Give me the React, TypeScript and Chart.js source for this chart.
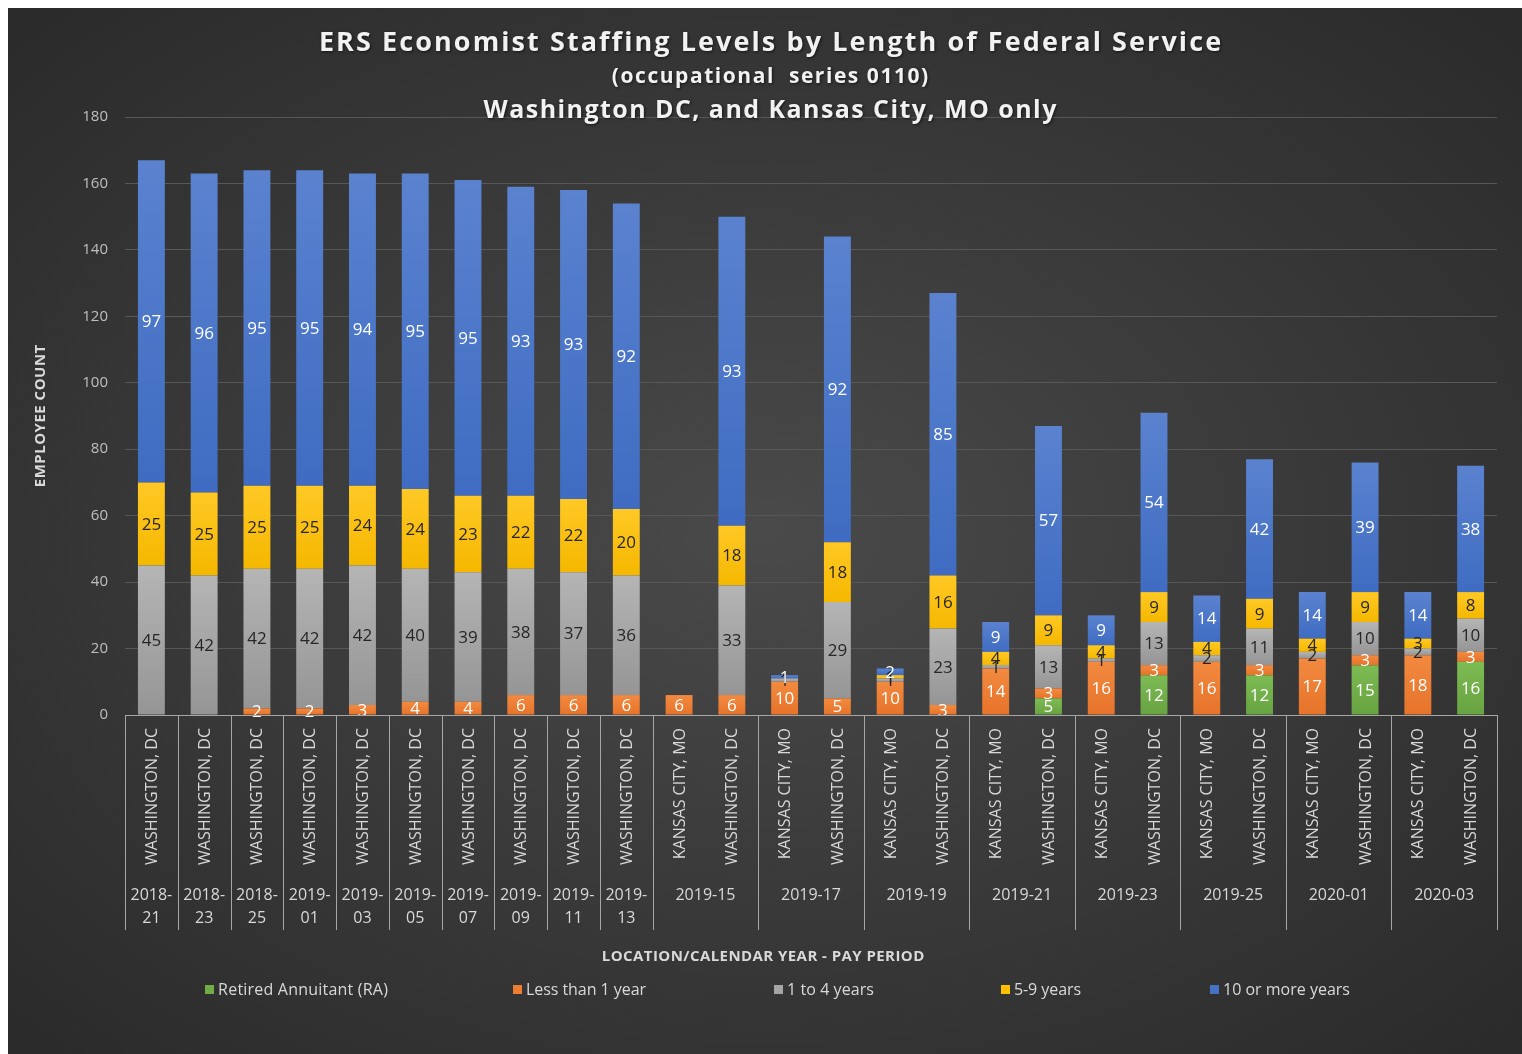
import React, { useEffect, useRef } from 'react';
import { Chart, registerables } from 'chart.js';

Chart.register(...registerables);

// ---------- data ----------
const locations = [
  'WASHINGTON, DC', 'WASHINGTON, DC', 'WASHINGTON, DC', 'WASHINGTON, DC', 'WASHINGTON, DC',
  'WASHINGTON, DC', 'WASHINGTON, DC', 'WASHINGTON, DC', 'WASHINGTON, DC', 'WASHINGTON, DC',
  'KANSAS CITY, MO', 'WASHINGTON, DC', 'KANSAS CITY, MO', 'WASHINGTON, DC',
  'KANSAS CITY, MO', 'WASHINGTON, DC', 'KANSAS CITY, MO', 'WASHINGTON, DC',
  'KANSAS CITY, MO', 'WASHINGTON, DC', 'KANSAS CITY, MO', 'WASHINGTON, DC',
  'KANSAS CITY, MO', 'WASHINGTON, DC', 'KANSAS CITY, MO', 'WASHINGTON, DC',
];
const periods = [
  '2018-21', '2018-23', '2018-25', '2019-01', '2019-03', '2019-05', '2019-07', '2019-09', '2019-11', '2019-13',
  '2019-15', '2019-15', '2019-17', '2019-17', '2019-19', '2019-19', '2019-21', '2019-21',
  '2019-23', '2019-23', '2019-25', '2019-25', '2020-01', '2020-01', '2020-03', '2020-03',
];

const seriesNames = ['Retired Annuitant (RA)', 'Less than 1 year', '1 to 4 years', '5-9 years', '10 or more years'];

const retiredAnnuitant = [0, 0, 0, 0, 0, 0, 0, 0, 0, 0, 0, 0, 0, 0, 0, 0, 0, 5, 0, 12, 0, 12, 0, 15, 0, 16];
const lessThan1Year = [0, 0, 2, 2, 3, 4, 4, 6, 6, 6, 6, 6, 10, 5, 10, 3, 14, 3, 16, 3, 16, 3, 17, 3, 18, 3];
const oneToFourYears = [45, 42, 42, 42, 42, 40, 39, 38, 37, 36, 0, 33, 1, 29, 1, 23, 1, 13, 1, 13, 2, 11, 2, 10, 2, 10];
const fiveToNineYears = [25, 25, 25, 25, 24, 24, 23, 22, 22, 20, 0, 18, 0, 18, 1, 16, 4, 9, 4, 9, 4, 9, 4, 9, 3, 8];
const tenOrMoreYears = [97, 96, 95, 95, 94, 95, 95, 93, 93, 92, 0, 93, 1, 92, 2, 85, 9, 57, 9, 54, 14, 42, 14, 39, 14, 38];

const yMax = 180;
const yStep = 20;

const titleLines = [
  'ERS Economist Staffing Levels by Length of Federal Service',
  '(occupational  series 0110)',
  'Washington DC, and Kansas City, MO only',
];
const yTitle = 'EMPLOYEE COUNT';
const xTitle = 'LOCATION/CALENDAR YEAR - PAY PERIOD';

// ---------- style ----------
const allSeries = [retiredAnnuitant, lessThan1Year, oneToFourYears, fiveToNineYears, tenOrMoreYears];
const baseColors = ['#70AD47', '#ED7D31', '#A5A5A5', '#FFC000', '#4472C4'];
const topColors = ['#7dbb54', '#f28a40', '#b5b5b5', '#ffc825', '#5a82cf'];
const bottomColors = ['#67a340', '#e6732a', '#959595', '#f5b800', '#3f6cc2'];
const labelColors = ['#ffffff', '#ffffff', '#262626', '#262626', '#ffffff'];

const W = 1514;
const H = 1046;
const FONT = "'Open Sans', sans-serif";

function fitText(ctx: CanvasRenderingContext2D, text: string, cx: number, cy: number, target: number) {
  (ctx as any).letterSpacing = '0px';
  const w0 = ctx.measureText(text).width;
  const sp = (target - w0) / text.length;
  (ctx as any).letterSpacing = sp.toFixed(2) + 'px';
  ctx.textAlign = 'center';
  ctx.fillText(text, cx + sp / 2, cy);
  (ctx as any).letterSpacing = '0px';
}

const decorPlugin = {
  id: 'decor',
  afterDatasetsDraw(chart: any) {
    const ctx: CanvasRenderingContext2D = chart.ctx;
    ctx.save();
    ctx.font = `17px ${FONT}`;
    ctx.textAlign = 'center';
    ctx.textBaseline = 'middle';
    chart.data.datasets.forEach((ds: any, di: number) => {
      const meta = chart.getDatasetMeta(di);
      meta.data.forEach((el: any, i: number) => {
        const v = ds.data[i];
        if (!v) return;
        const p = el.getProps(['x', 'y', 'base'], true);
        ctx.fillStyle = labelColors[di];
        ctx.fillText(String(v), p.x, (p.y + p.base) / 2 + 1);
      });
    });
    ctx.restore();
  },
  afterDraw(chart: any) {
    const ctx: CanvasRenderingContext2D = chart.ctx;
    const area = chart.chartArea;
    const xs = chart.scales.x;
    const ys = chart.scales.y;
    const n = locations.length;
    ctx.save();

    // baseline
    const y0 = ys.getPixelForValue(0);
    ctx.strokeStyle = '#a6a6a6';
    ctx.lineWidth = 1;
    ctx.beginPath();
    ctx.moveTo(area.left, Math.round(y0) + 0.5);
    ctx.lineTo(area.right, Math.round(y0) + 0.5);
    ctx.stroke();

    const boundary = (i: number) => {
      if (i <= 0) return area.left;
      if (i >= n) return area.right;
      return (xs.getPixelForValue(i - 1) + xs.getPixelForValue(i)) / 2;
    };

    // groups
    const groups: { start: number; end: number; label: string }[] = [];
    periods.forEach((p, i) => {
      const last = groups[groups.length - 1];
      if (last && last.label === p) last.end = i;
      else groups.push({ start: i, end: i, label: p });
    });

    ctx.strokeStyle = '#a6a6a6';
    const sepBottom = y0 + 215;
    const drawSep = (x: number) => {
      ctx.beginPath();
      ctx.moveTo(Math.round(x) + 0.5, y0);
      ctx.lineTo(Math.round(x) + 0.5, sepBottom);
      ctx.stroke();
    };
    drawSep(boundary(0));
    groups.forEach((g) => drawSep(boundary(g.end + 1)));

    // location labels
    ctx.fillStyle = '#d9d9d9';
    ctx.font = `16px ${FONT}`;
    locations.forEach((loc, i) => {
      const x = xs.getPixelForValue(i);
      ctx.save();
      ctx.translate(x, y0 + 13);
      ctx.rotate(-Math.PI / 2);
      ctx.textAlign = 'right';
      ctx.textBaseline = 'middle';
      ctx.fillText(loc, 0, 1);
      ctx.restore();
    });

    // period labels
    ctx.font = `16px ${FONT}`;
    ctx.textAlign = 'center';
    ctx.textBaseline = 'middle';
    groups.forEach((g) => {
      const cx = (boundary(g.start) + boundary(g.end + 1)) / 2;
      if (g.start === g.end) {
        const parts = g.label.split('-');
        ctx.fillText(parts[0] + '-', cx, y0 + 180);
        ctx.fillText(parts[1], cx, y0 + 203);
      } else {
        ctx.fillText(g.label, cx, y0 + 180);
      }
    });

    // x title
    ctx.font = `bold 15px ${FONT}`;
    ctx.fillStyle = '#d9d9d9';
    ctx.textBaseline = 'middle';
    fitText(ctx, xTitle, 755, 949, 323);

    // legend
    const legendX = [197, 505, 766, 993, 1202];
    const legendW = [170, 120, 87, 67, 127];
    ctx.font = `16px ${FONT}`;
    seriesNames.forEach((name, k) => {
      ctx.fillStyle = baseColors[k];
      ctx.fillRect(legendX[k], 977, 9, 9);
      ctx.fillStyle = '#d9d9d9';
      fitText(ctx, name, legendX[k] + 13 + legendW[k] / 2, 982, legendW[k]);
    });

    // y title
    ctx.save();
    ctx.translate(33, 408);
    ctx.rotate(-Math.PI / 2);
    ctx.font = `bold 15px ${FONT}`;
    ctx.fillStyle = '#d9d9d9';
    ctx.textBaseline = 'middle';
    fitText(ctx, yTitle, 0, 0, 143);
    ctx.restore();

    // titles
    ctx.shadowColor = 'rgba(0,0,0,0.6)';
    ctx.shadowBlur = 3;
    ctx.shadowOffsetX = 1;
    ctx.shadowOffsetY = 1;
    ctx.fillStyle = '#f2f2f2';
    ctx.textBaseline = 'middle';
    ctx.font = `bold 27px ${FONT}`;
    fitText(ctx, titleLines[0], 762, 35, 904);
    ctx.font = `bold 21px ${FONT}`;
    fitText(ctx, titleLines[1], 762, 69, 318);
    ctx.font = `bold 25px ${FONT}`;
    fitText(ctx, titleLines[2], 762, 103, 574);

    ctx.restore();
  },
};

export default function App() {
  const ref = useRef<HTMLCanvasElement | null>(null);

  useEffect(() => {
    if (!ref.current) return;
    const datasets = seriesNames.map((name, k) => ({
      label: name,
      data: allSeries[k],
      backgroundColor: (c: any) => {
        const chart = c.chart;
        const ys = chart.scales && chart.scales.y;
        if (!ys || c.type !== 'data') return baseColors[k];
        const i = c.dataIndex;
        let start = 0;
        for (let j = 0; j < k; j++) start += allSeries[j][i];
        const end = start + allSeries[k][i];
        const yTop = ys.getPixelForValue(end);
        const yBot = ys.getPixelForValue(start);
        if (!isFinite(yTop) || !isFinite(yBot) || Math.abs(yBot - yTop) < 1) return baseColors[k];
        const g = chart.ctx.createLinearGradient(0, yTop, 0, yBot);
        g.addColorStop(0, topColors[k]);
        g.addColorStop(1, bottomColors[k]);
        return g;
      },
      borderWidth: 0,
      categoryPercentage: 1,
      barPercentage: 0.51,
      stack: 's',
    }));

    const chart = new Chart(ref.current, {
      type: 'bar',
      data: { labels: locations.map((l, i) => `${l} ${periods[i]}`), datasets },
      options: {
        responsive: false,
        animation: false,
        devicePixelRatio: 1,
        layout: { padding: { top: 109, right: 25, bottom: H - 707, left: 0 } },
        plugins: {
          legend: { display: false },
          title: { display: false },
          tooltip: { enabled: false },
        },
        scales: {
          x: {
            stacked: true,
            display: false,
          },
          y: {
            stacked: true,
            min: 0,
            max: yMax,
            afterFit: (scale: any) => {
              scale.width = 117;
            },
            ticks: {
              stepSize: yStep,
              padding: 17,
              color: '#bfbfbf',
              font: { family: FONT, size: 15 },
            },
            grid: {
              color: '#575757',
              lineWidth: 1,
              drawTicks: false,
            },
            border: { display: false },
          },
        },
      },
      plugins: [decorPlugin],
    });
    return () => chart.destroy();
  }, []);

  return (
    <div
      style={{
        position: 'fixed',
        left: 8,
        top: 8,
        width: W,
        height: H,
        background: 'radial-gradient(ellipse at 50% 50%, #4a4a4a 0%, #3b3b3b 45%, #2a2a2a 100%)',
      }}
    >
      <canvas ref={ref} width={W} height={H} style={{ display: 'block' }} />
    </div>
  );
}
